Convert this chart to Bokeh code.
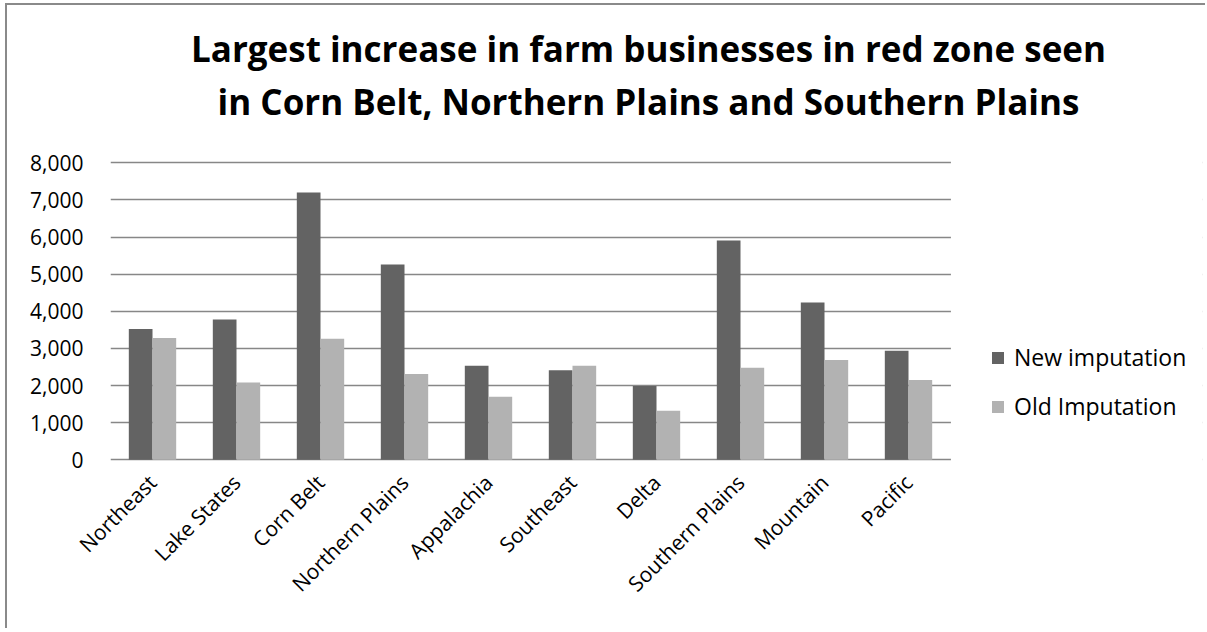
from bokeh.plotting import figure
from bokeh.models import (FactorRange, Range1d, Label, Legend, LegendItem, NumeralTickFormatter,
                          ColumnDataSource, BoxAnnotation)
from bokeh.transform import dodge
from bokeh.embed import file_html
from bokeh.resources import INLINE
import math

regions = ["Northeast", "Lake States", "Corn Belt", "Northern Plains", "Appalachia",
           "Southeast", "Delta", "Southern Plains", "Mountain", "Pacific"]
new_imputation = [3520, 3780, 7200, 5260, 2530, 2410, 1990, 5910, 4240, 2940]
old_imputation = [3280, 2080, 3260, 2310, 1700, 2530, 1320, 2480, 2690, 2150]
y_ticks = [0, 1000, 2000, 3000, 4000, 5000, 6000, 7000, 8000]
title_lines = ["Largest increase in farm businesses in red zone seen",
               "in Corn Belt, Northern Plains and Southern Plains"]
series_names = ["New imputation", "Old Imputation"]

# ---- layout (page pixels -> figure pixels) ----
OX, OY = 7, 5                 # figure origin on the page (margin + border)
W, H = 1200, 625
LEFT = 110 - OX               # plot-area left edge
blank = [" ", "  ", "   "]    # empty slots that hold the legend
n_slots = len(regions) + len(blank)
CAT_W = 84
BOTTOM_PX = 459.3 - OY        # pixel of value 0
TOP_PX = 162.3 - OY           # pixel of value 8000
FRAME_BOTTOM = 458
px_per_unit = (BOTTOM_PX - TOP_PX) / 8000.0
y_start = -(FRAME_BOTTOM - BOTTOM_PX) / px_per_unit
y_end = 8000 + TOP_PX / px_per_unit


def page_to_y(py):
    return (BOTTOM_PX - (py - OY)) / px_per_unit


def page_to_x(px):
    return (px - OX - LEFT) / CAT_W


src = ColumnDataSource(dict(region=regions, new=new_imputation, old=old_imputation))

FONT = "Open Sans"
GRID = "#878787"

p = figure(x_range=FactorRange(factors=regions + blank, range_padding=0),
           y_range=Range1d(y_start, y_end),
           width=W, height=H, output_backend="svg", toolbar_location=None,
           min_border_left=LEFT, min_border_right=W - LEFT - n_slots * CAT_W,
           min_border_top=0, min_border_bottom=H - FRAME_BOTTOM,
           border_fill_color="white", background_fill_color="white")
p.styles = {"margin-left": "5px", "margin-top": "3px",
            "border-left": "2px solid #8a8a8a", "border-top": "2px solid #8a8a8a"}

bw = 0.282
r_new = p.vbar(x=dodge("region", -bw / 2, range=p.x_range), top="new", width=bw, bottom=0,
               source=src, fill_color="#636363", line_color=None)
r_old = p.vbar(x=dodge("region", bw / 2, range=p.x_range), top="old", width=bw, bottom=0,
               source=src, fill_color="#b2b2b2", line_color=None)

p.outline_line_color = None
p.xgrid.grid_line_color = None
p.ygrid.grid_line_color = GRID
p.ygrid.grid_line_width = 1.5
p.yaxis.ticker = y_ticks
p.yaxis.formatter = NumeralTickFormatter(format="0,0")
p.yaxis.axis_line_color = None
p.yaxis.major_tick_line_color = None
p.yaxis.minor_tick_line_color = None
p.yaxis.major_tick_out = 0
p.yaxis.major_tick_in = 0
p.yaxis.minor_tick_out = 0
p.yaxis.major_label_standoff = 27
p.yaxis.major_label_text_font = FONT
p.yaxis.major_label_text_font_size = "21px"
p.yaxis.major_label_text_color = "#000000"

p.xaxis.axis_line_color = None
p.xaxis.major_tick_line_color = None
p.xaxis.minor_tick_line_color = None
p.xaxis.major_tick_out = 0
p.xaxis.major_tick_in = 0
p.xaxis.major_label_orientation = math.pi / 4
p.xaxis.major_label_standoff = 15
p.xaxis.major_label_text_font = FONT
p.xaxis.major_label_text_font_size = "21px"
p.xaxis.major_label_text_color = "#000000"

# hide the grid in the legend slots
p.add_layout(BoxAnnotation(left=len(regions) + 0.005, right=n_slots + 1, top=8300, bottom=y_start - 500,
                           fill_color="white", fill_alpha=1, line_color=None))

for txt, base in zip(title_lines, [60 - 12.5, 113 - 12.5]):
    p.add_layout(Label(x=page_to_x(648), y=page_to_y(base), text=txt,
                       text_align="center", text_baseline="alphabetic",
                       text_font=FONT, text_font_style="bold", text_font_size="35px",
                       text_color="#000000"))

legend = Legend(items=[LegendItem(label=series_names[0], renderers=[r_new]),
                       LegendItem(label=series_names[1], renderers=[r_old])],
                location=(880, 41), orientation="vertical",
                glyph_width=15, glyph_height=15, label_standoff=9,
                label_text_font=FONT, label_text_font_size="23px", label_text_color="#000000",
                label_height=31, spacing=17, padding=0, margin=0,
                border_line_color=None, background_fill_alpha=0)
p.add_layout(legend)

open("out.html", "w").write(file_html(p, INLINE))
